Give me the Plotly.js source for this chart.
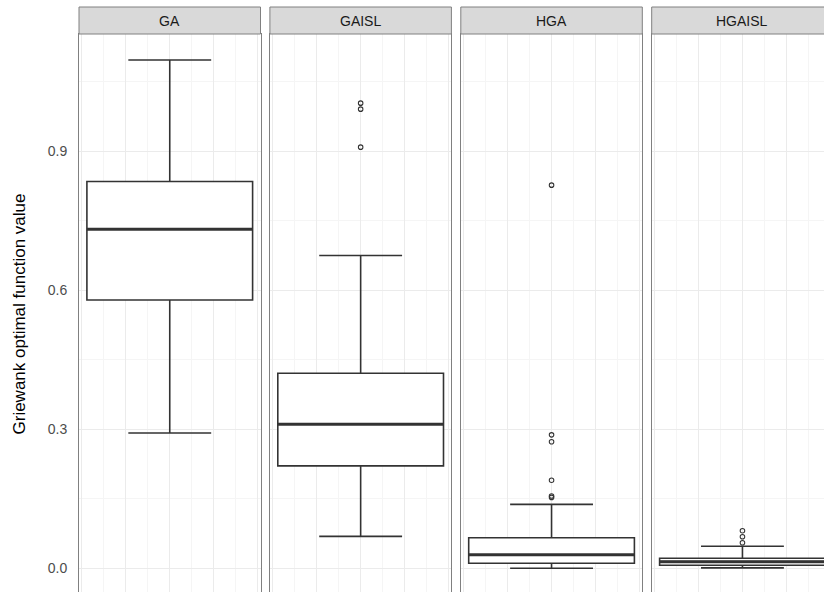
<!DOCTYPE html>
<html>
<head>
<meta charset="utf-8">
<script src="https://cdn.plot.ly/plotly-3.0.1.min.js"></script>
<style>
  html, body { margin: 0; padding: 0; background: #ffffff; }
  #wrap { width: 824px; height: 592px; overflow: hidden; position: relative; }
  #chart { width: 850px; height: 620px; }
</style>
</head>
<body>
<div id="wrap"><div id="chart"></div></div>
<script>
// ---- data ----
const groups = ['GA', 'GAISL', 'HGA', 'HGAISL'];
const lowerWhisker = [0.292, 0.069, 0.000, 0.001];
const q1 = [0.579, 0.221, 0.011, 0.0065];
const median = [0.732, 0.311, 0.029, 0.0143];
const q3 = [0.835, 0.421, 0.066, 0.0216];
const upperWhisker = [1.097, 0.675, 0.138, 0.0475];
const outliersGA = [];
const outliersGAISL = [1.004, 0.991, 0.909];
const outliersHGA = [0.827, 0.288, 0.273, 0.190, 0.156, 0.153];
const outliersHGAISL = [0.081, 0.068, 0.055];
const outliers = [outliersGA, outliersGAISL, outliersHGA, outliersHGAISL];
const yTitle = 'Griewank optimal function value';

// ---- layout geometry ----
const W = 850, H = 620;
const panelLeft0 = 79, panelStep = 190.9, panelWidth = 181.5;
const pxPerXUnit = 44;
const xHalf = panelWidth / 2 / pxPerXUnit;
const boxWidth = 3.766;
const stripTop = 7, stripBottom = 34;
const zeroPx = 568.3, pxPerY = 463.3;
const yTop = (zeroPx - stripBottom) / pxPerY;
const yBottom = (zeroPx - H) / pxPerY;

const fontFamily = '"Liberation Sans", Arial, Helvetica, sans-serif';
const borderColor = '#808080';
const ink = '#333333';

const traces = [];
const layout = {
  width: W, height: H,
  margin: {l: 0, r: 0, t: 0, b: 0, pad: 0},
  paper_bgcolor: '#ffffff',
  plot_bgcolor: '#ffffff',
  showlegend: false,
  font: {family: fontFamily, color: '#4d4d4d', size: 14},
  shapes: [],
  annotations: []
};

groups.forEach((g, i) => {
  const sfx = i === 0 ? '' : String(i + 1);
  const xa = 'x' + sfx, ya = 'y' + sfx;
  const left = panelLeft0 + i * panelStep;
  const right = left + panelWidth;

  traces.push({
    type: 'box',
    name: g,
    x: [0],
    q1: [q1[i]], median: [median[i]], q3: [q3[i]],
    lowerfence: [lowerWhisker[i]], upperfence: [upperWhisker[i]],
    width: boxWidth,
    whiskerwidth: 0.5,
    boxpoints: false,
    fillcolor: '#ffffff',
    line: {color: ink, width: 1.6},
    xaxis: xa, yaxis: ya,
    hoverinfo: 'skip'
  });
  // thicker median line (ggplot fatten)
  traces.push({
    type: 'scatter', mode: 'lines',
    x: [-boxWidth / 2, boxWidth / 2],
    y: [median[i], median[i]],
    line: {color: ink, width: 3},
    xaxis: xa, yaxis: ya, hoverinfo: 'skip'
  });
  if (outliers[i].length) {
    traces.push({
      type: 'scatter', mode: 'markers',
      x: outliers[i].map(() => 0),
      y: outliers[i],
      marker: {symbol: 'circle-open', size: 4.5, color: ink, line: {width: 1.1, color: ink}},
      xaxis: xa, yaxis: ya, hoverinfo: 'skip'
    });
  }

  layout['xaxis' + sfx] = {
    domain: [left / W, right / W],
    anchor: ya,
    range: [-xHalf, xHalf],
    tick0: 0, dtick: 1,
    showticklabels: false,
    ticks: '',
    showgrid: true, gridcolor: '#ebebeb', gridwidth: 1,
    minor: {tick0: 0, dtick: 0.5, showgrid: true, gridcolor: '#f5f5f5', gridwidth: 1},
    zeroline: false,
    showline: true, mirror: true, linecolor: borderColor, linewidth: 1,
    fixedrange: true
  };
  layout['yaxis' + sfx] = {
    domain: [0, 1 - stripBottom / H],
    anchor: xa,
    range: [yBottom, yTop],
    tick0: 0, dtick: 0.3,
    tickformat: '.1f',
    showticklabels: i === 0,
    ticks: '',
    ticklabelstandoff: 8,
    tickfont: {family: fontFamily, size: 14, color: '#4d4d4d'},
    showgrid: true, gridcolor: '#ebebeb', gridwidth: 1,
    minor: {tick0: 0, dtick: 0.15, showgrid: true, gridcolor: '#f5f5f5', gridwidth: 1},
    zeroline: false,
    showline: true, mirror: true, linecolor: borderColor, linewidth: 1,
    fixedrange: true
  };

  // facet strip
  layout.shapes.push({
    type: 'rect', xref: 'paper', yref: 'paper',
    x0: left / W, x1: right / W,
    y0: 1 - stripBottom / H, y1: 1 - stripTop / H,
    fillcolor: '#d9d9d9', line: {color: borderColor, width: 1},
    layer: 'above'
  });
  layout.annotations.push({
    xref: 'paper', yref: 'paper',
    x: (left + right) / 2 / W,
    y: 1 - (stripTop + stripBottom) / 2 / H,
    xanchor: 'center', yanchor: 'middle',
    text: g, showarrow: false,
    font: {family: fontFamily, size: 14, color: '#1a1a1a'}
  });
});

// y axis title
layout.annotations.push({
  xref: 'paper', yref: 'paper',
  x: 18.5 / W, y: 1 - 314 / H,
  xanchor: 'center', yanchor: 'middle',
  textangle: -90,
  text: yTitle, showarrow: false,
  font: {family: fontFamily, size: 17, color: '#000000'}
});

Plotly.newPlot('chart', traces, layout, {staticPlot: true, displayModeBar: false});
</script>
</body>
</html>
